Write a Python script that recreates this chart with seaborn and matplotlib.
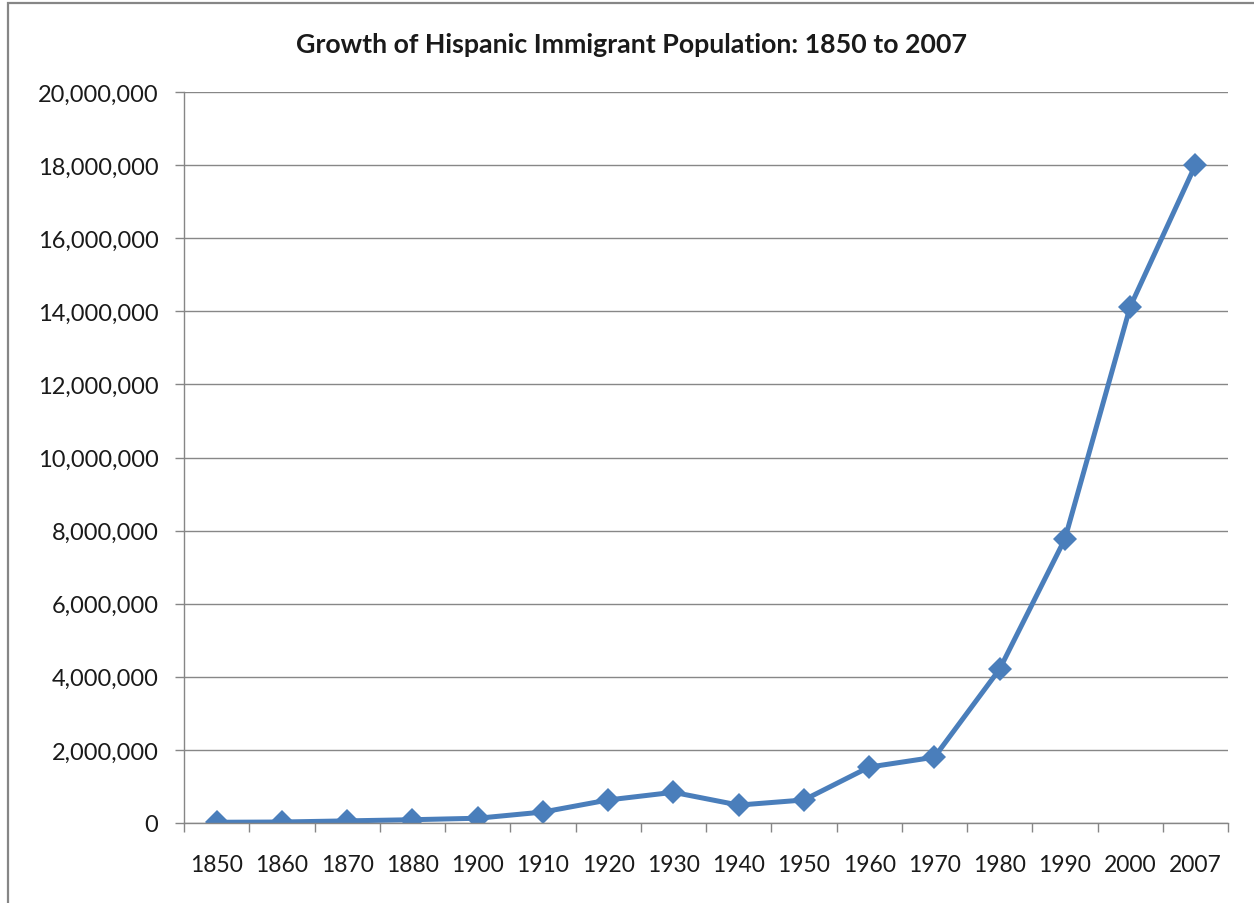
import matplotlib
matplotlib.use("Agg")
import matplotlib.pyplot as plt
import matplotlib.ticker as mticker
from matplotlib.patches import Rectangle
import seaborn as sns
import pandas as pd
import numpy as np

# Census decades and estimated Hispanic immigrant population
years = ["1850", "1860", "1870", "1880", "1900", "1910", "1920", "1930",
         "1940", "1950", "1960", "1970", "1980", "1990", "2000", "2007"]
population = [20000, 27000, 58000, 90000, 130000, 300000, 630000, 840000,
              490000, 630000, 1530000, 1800000, 4210000, 7770000, 14120000, 18000000]
y_ticks = list(range(0, 20000001, 2000000))
title = "Growth of Hispanic Immigrant Population: 1850 to 2007"

df = pd.DataFrame({"year": years, "population": population})

sns.set_theme(style="white")
plt.rcParams["font.family"] = ["Lato", "DejaVu Sans"]

W, H = 1254, 904
fig = plt.figure(figsize=(W / 100, H / 100), dpi=100)
ax = fig.add_axes([184 / W, 1 - 824 / H, (1228 - 184) / W, (824 - 93) / H])

sns.lineplot(data=df, x="year", y="population", ax=ax, color="#4A7EBB",
             linewidth=3.6, marker="D", markersize=12, markeredgewidth=0,
             sort=False)

ax.set_xlim(-0.5, len(years) - 0.5)
ax.set_ylim(0, 20000000)
ax.set_yticks(y_ticks)
ax.yaxis.set_major_formatter(mticker.StrMethodFormatter("{x:,.0f}"))

# Category labels centred, tick marks between categories
ax.set_xticks(np.arange(len(years)))
ax.set_xticklabels(years)
ax.set_xticks(np.arange(len(years) + 1) - 0.5, minor=True)
ax.tick_params(axis="x", which="major", length=0, pad=22, labelsize=16.5,
               colors="#1a1a1a")
ax.tick_params(axis="x", which="minor", length=6.5, width=1, color="#868686",
               direction="out", bottom=True)
ax.tick_params(axis="y", which="major", length=6.5, width=1, color="#868686",
               direction="out", left=True, pad=12, labelsize=17,
               labelcolor="#1a1a1a")

ax.grid(axis="y", color="#878787", linewidth=1)
ax.grid(axis="x", visible=False)
ax.set_axisbelow(True)
for side in ["top", "right"]:
    ax.spines[side].set_visible(False)
for side in ["left", "bottom"]:
    ax.spines[side].set_color("#868686")
    ax.spines[side].set_linewidth(1)

ax.set_xlabel("")
ax.set_ylabel("")

fig.text(631 / W, 1 - 45 / H, title, ha="center", va="center",
         fontsize=19.3, fontweight="bold", color="#1a1a1a")

# Chart frame
fig.patches.append(Rectangle((8 / W, -0.1), 1.2, 1 - 4 / H + 0.1,
                             transform=fig.transFigure, fill=False,
                             edgecolor="#868686", linewidth=1.6))

fig.savefig("out.png", dpi=100)
